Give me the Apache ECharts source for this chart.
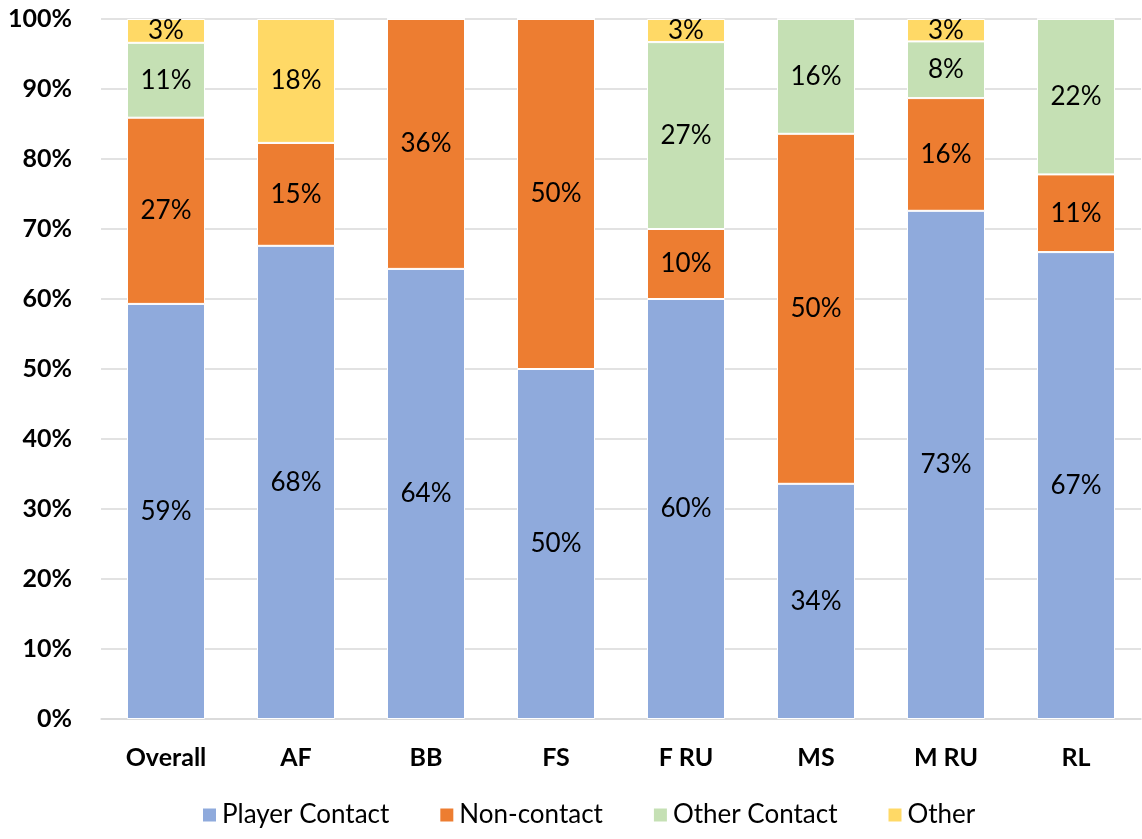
<!DOCTYPE html>
<html><head><meta charset="utf-8">
<script src="https://cdn.jsdelivr.net/npm/echarts@6/dist/echarts.min.js"></script>
<style>html,body{margin:0;padding:0;background:#fff}#c{width:1142px;height:839px}</style>
</head><body><div id="c"></div>
<script>
const categories = ['Overall','AF','BB','FS','F RU','MS','M RU','RL'];
const playerContact = [59.3, 67.6, 64.3, 50.0, 60.0, 33.6, 72.6, 66.7];
const nonContact    = [26.6, 14.7, 35.7, 50.0, 10.0, 50.0, 16.1, 11.1];
const otherContact  = [10.7, 0, 0, 0, 26.7, 16.4, 8.1, 22.2];
const other         = [3.4, 17.7, 0, 0, 3.3, 0, 3.2, 0];
const seriesNames = ['Player Contact','Non-contact','Other Contact','Other'];
const colors = ['#8FAADC','#ED7D31','#C5E0B4','#FFD966'];
const yTicks = [0,10,20,30,40,50,60,70,80,90,100];

const font = 'Lato, "Open Sans", sans-serif';
const mk = (name, data, i) => ({
  name, type: 'bar', stack: 'all', data, barWidth: '60%',
  itemStyle: {color: colors[i], borderColor: '#fff', borderWidth: 1},
  label: {show: true, position: 'inside', fontFamily: font, fontSize: 26, color: '#000',
    formatter: p => p.value > 0 ? Math.round(p.value) + '%' : ''},
  emphasis: {disabled: true}
});
const chart = echarts.init(document.getElementById('c'));
chart.setOption({
  animation: false,
  grid: {left: 101, right: 1, top: 19, bottom: 120, containLabel: false},
  legend: {bottom: 6, left: 196, itemWidth: 15, itemHeight: 15, itemGap: 49,
    icon: 'rect', textStyle: {fontFamily: font, fontSize: 26, color: '#000'}, data: seriesNames},
  xAxis: {type: 'category', data: categories,
    axisLine: {lineStyle: {color: '#D9D9D9', width: 1.5}}, axisTick: {show: false},
    axisLabel: {fontFamily: font, fontSize: 25, fontWeight: 'bold', color: '#000', margin: 26}},
  yAxis: {type: 'value', min: 0, max: 100, interval: 10,
    axisLine: {show: false}, axisTick: {show: false},
    splitLine: {lineStyle: {color: '#D9D9D9', width: 1.5}},
    axisLabel: {fontFamily: font, fontSize: 25, fontWeight: 'bold', color: '#000', margin: 29,
      formatter: v => yTicks.includes(v) ? v + '%' : ''}},
  series: [mk(seriesNames[0], playerContact, 0), mk(seriesNames[1], nonContact, 1),
           mk(seriesNames[2], otherContact, 2), mk(seriesNames[3], other, 3)]
});
</script></body></html>
